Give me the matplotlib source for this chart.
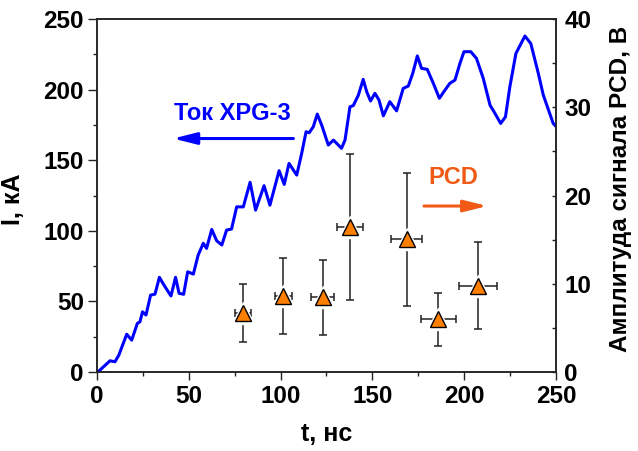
import matplotlib
matplotlib.use("Agg")
import matplotlib.pyplot as plt
from matplotlib.ticker import MultipleLocator

plt.rcParams['font.family'] = ['Liberation Sans', 'DejaVu Sans']
plt.rcParams['font.weight'] = 'bold'

# Current of XPG-3 (kA) vs time (ns)
t_ns = [0.4, 2.6, 7.1, 9.8, 11.9, 16.2, 18.9, 22.0, 23.4, 24.8, 26.7, 29.2, 31.6,
        34.0, 36.5, 40.3, 42.8, 44.7, 47.2, 49.4, 52.5, 55.1, 57.9, 59.7, 62.5,
        65.2, 68.0, 70.6, 73.3, 76.1, 79.7, 83.4, 86.4, 91.0, 94.2, 99.2, 102.0,
        104.6, 108.8, 111.5, 113.9, 115.6, 117.8, 120.0, 122.4, 126.0, 128.8,
        133.2, 135.1, 137.8, 139.6, 142.4, 145.0, 146.9, 149.0, 151.4, 153.6,
        156.0, 159.5, 163.2, 166.8, 169.6, 172.0, 174.5, 176.8, 179.9, 183.2,
        186.5, 189.6, 192.2, 195.0, 197.7, 199.9, 203.6, 206.7, 210.4, 214.1,
        216.3, 219.9, 222.5, 224.9, 228.2, 233.1, 236.3, 240.4, 243.1, 248.5, 250.0]
current_kA = [0, 2.6, 8, 7.3, 12, 26.8, 22.6, 34.5, 35.6, 42.7, 40.4, 54.5, 55.2,
              67.1, 61.6, 53.9, 67.1, 55.8, 55.1, 71, 69.4, 82.8, 91.2, 87.6, 101,
              93, 90, 100.6, 101.3, 117, 117, 134.4, 114.7, 132, 118.2, 142.6, 132.9,
              147.8, 139.5, 154.9, 170.2, 169.5, 173.7, 182.7, 174.9, 160.8, 164.3,
              158.5, 164.3, 187.9, 188.7, 196.2, 207.3, 198.6, 192, 197.4, 192.7,
              181.5, 191.5, 185, 200.9, 202.6, 211.6, 223.9, 215.1, 214.4, 204.5,
              193.9, 199.8, 204.5, 206.8, 218.6, 226.9, 226.9, 222.2, 208, 189,
              184.3, 176.1, 180.8, 202.1, 225.7, 238, 232.7, 211.5, 196.2, 176.1, 174]

# PCD signal amplitude (V) with errors
pcd_t = [79.5, 101.5, 122.9, 137.8, 168.7, 185.9, 207.7]
pcd_t_err = [4.4, 4.7, 6.4, 7.1, 8.6, 9.4, 10.4]
pcd_v = [6.7, 8.6, 8.5, 16.45, 15.05, 6.0, 9.8]
pcd_v_err = [3.3, 4.3, 4.25, 8.25, 7.55, 3.0, 4.9]

blue = '#0000FF'
orange = '#FF8000'
pcd_color = '#F05A14'
axis_color = '#222222'

fig = plt.figure(figsize=(6.38, 4.51), dpi=100)
ax = fig.add_axes([0.152, 0.175, 0.7194, 0.7827])
ax2 = ax.twinx()

ax.plot(t_ns, current_kA, color=blue, lw=2.2, zorder=3,
        solid_joinstyle='round', solid_capstyle='round')
ax.set_xlim(0, 250)
ax.set_ylim(0, 250)
ax.xaxis.set_major_locator(MultipleLocator(50))
ax.xaxis.set_minor_locator(MultipleLocator(25))
ax.yaxis.set_major_locator(MultipleLocator(50))
ax.yaxis.set_minor_locator(MultipleLocator(25))
ax.tick_params(axis='both', which='major', direction='out', length=6.5, width=1,
               labelsize=17.5, color=axis_color, pad=3)
ax.tick_params(axis='both', which='minor', direction='out', length=3, width=1,
               color=axis_color)
ax.tick_params(axis='x', which='major', length=5.5, pad=4)
ax.set_xlabel('t, нс', fontsize=18, fontweight='bold', labelpad=10)
ax.set_ylabel('I, кА', fontsize=18, fontweight='bold')
ax.yaxis.set_label_coords(-0.157, 0.49)
for s in ax.spines.values():
    s.set_linewidth(1.1)
    s.set_color(axis_color)

ax.text(73.8, 183.4, 'Ток XPG-3', color=blue, fontsize=17, fontweight='bold',
        ha='center', va='center')
ax.annotate('', xy=(41.4, 165.4), xytext=(107, 165.4),
            arrowprops=dict(arrowstyle='-|>,head_length=1.0,head_width=0.25',
                            color=blue, lw=2.2, mutation_scale=14,
                            shrinkA=0, shrinkB=0))
ax.text(194.2, 138, 'PCD', color=pcd_color, fontsize=17, fontweight='bold',
        ha='center', va='center')
ax.annotate('', xy=(212.6, 117.6), xytext=(178.1, 117.6),
            arrowprops=dict(arrowstyle='-|>,head_length=1.0,head_width=0.25',
                            color=pcd_color, lw=2.2, mutation_scale=14,
                            shrinkA=0, shrinkB=0))

ax2.errorbar(pcd_t, pcd_v, xerr=pcd_t_err, yerr=pcd_v_err, fmt='none',
             ecolor=axis_color, elinewidth=1.1, capsize=3, capthick=1.1, zorder=2)
ax2.plot(pcd_t, pcd_v, linestyle='none', marker='^', markersize=16,
         color='white', zorder=3)
ax2.plot(pcd_t, pcd_v, linestyle='none', marker='^', markersize=12,
         markerfacecolor=orange, markeredgecolor='black', markeredgewidth=1,
         zorder=4)
ax2.set_ylim(0, 40)
ax2.yaxis.set_major_locator(MultipleLocator(10))
ax2.yaxis.set_minor_locator(MultipleLocator(5))
ax2.tick_params(axis='y', which='both', direction='in', length=3, width=1,
                labelsize=17.5, color=axis_color, pad=6)
ax2.set_ylabel('Амплитуда сигнала PCD, В', fontsize=17.5, fontweight='bold')
ax2.yaxis.set_label_coords(1.115, 0.52)
for s in ax2.spines.values():
    s.set_linewidth(1.1)
    s.set_color(axis_color)

fig.savefig('out.png', dpi=100)
